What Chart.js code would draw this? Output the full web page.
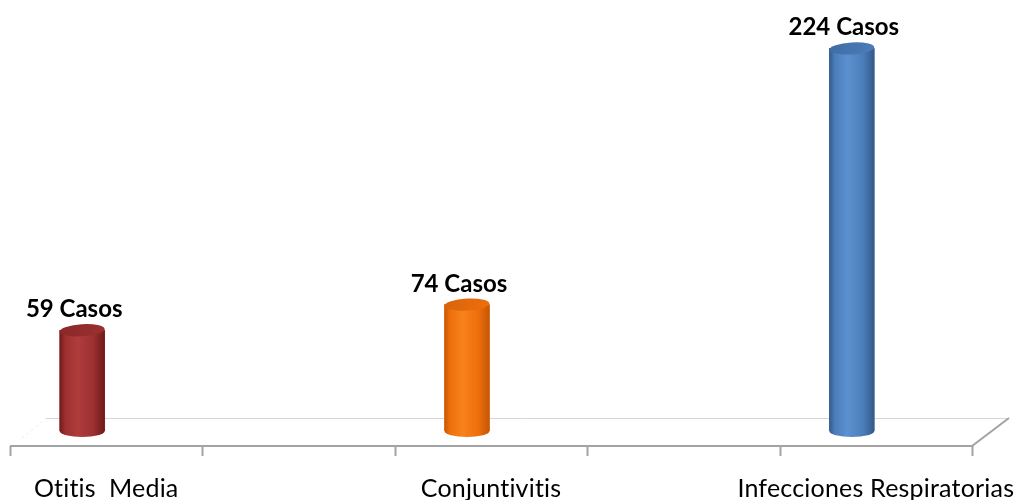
<!DOCTYPE html>
<html>
<head>
<meta charset="utf-8">
<script src="https://cdn.jsdelivr.net/npm/chart.js@4/dist/chart.umd.min.js"></script>
<style>
  html, body { margin: 0; padding: 0; background: #ffffff; }
  #wrap { width: 1015px; height: 500px; }
</style>
</head>
<body>
<div id="wrap"><canvas id="c" width="1015" height="500"></canvas></div>
<script>
// Categories (positions 2 and 4 are empty gaps on the axis)
const categories = ['Otitis  Media', '', 'Conjuntivitis', '', 'Infecciones Respiratorias'];
// Number of cases per category
const casos = [59, null, 74, null, 224];
// Text shown above each bar
const valueLabels = ['59 Casos', '', '74 Casos', '', '224 Casos'];

// Cylinder shading: [edge, highlight, mid, cap]
const shades = [
  ['#6e1a1a', '#b03c3c', '#9c3030', '#8a2828'],
  null,
  ['#c55708', '#f7821c', '#ee6f0c', '#d9630a'],
  null,
  ['#34598a', '#5d90d0', '#4b7dba', '#3f6ca4']
];

const SHIFT = -24;   // perspective shift of the bars
const FRONT = 15;    // floor front edge below the zero line
const BACK = 13;     // floor back edge above the zero line
const DEPTH = 37;    // horizontal depth of the floor

const floorPlugin = {
  id: 'floor',
  beforeDatasetsDraw(chart) {
    const { ctx, chartArea, scales } = chart;
    const y0 = scales.y.getPixelForValue(0);
    const yf = y0 + FRONT, yb = y0 - BACK;
    ctx.save();
    // back edge
    ctx.strokeStyle = '#d6d6d6';
    ctx.lineWidth = 1;
    ctx.beginPath();
    ctx.moveTo(chartArea.left + 36, yb + 0.5);
    ctx.lineTo(chartArea.right + DEPTH, yb + 0.5);
    ctx.stroke();
    // faint left side edge
    ctx.strokeStyle = '#e4e4e4';
    ctx.setLineDash([2, 4]);
    ctx.beginPath();
    ctx.moveTo(chartArea.left + 12, yf - 8);
    ctx.lineTo(chartArea.left + 36, yb + 0.5);
    ctx.stroke();
    ctx.setLineDash([]);
    // front edge + right side edge
    ctx.strokeStyle = '#a3a3a3';
    ctx.lineWidth = 2;
    ctx.beginPath();
    ctx.moveTo(chartArea.left, yf);
    ctx.lineTo(chartArea.right, yf);
    ctx.lineTo(chartArea.right + DEPTH, yb);
    ctx.stroke();
    // category separators
    const n = categories.length;
    const step = (chartArea.right - chartArea.left) / n;
    ctx.beginPath();
    for (let i = 0; i <= n; i++) {
      const x = Math.round(chartArea.left + i * step) + 0.5;
      ctx.moveTo(x, yf);
      ctx.lineTo(x, yf + 10);
    }
    ctx.stroke();
    ctx.restore();
    // bars are drawn with the perspective shift
    ctx.save();
    ctx.translate(SHIFT, 0);
  },
  afterDatasetsDraw(chart) {
    const { ctx } = chart;
    const meta = chart.getDatasetMeta(0);
    meta.data.forEach((el, i) => {
      const s = shades[i];
      if (!s || casos[i] == null) return;
      const { x, y, base, width } = el.getProps(['x', 'y', 'base', 'width'], true);
      const l = x - width / 2, r = x + width / 2, ry = 6;
      const g = ctx.createLinearGradient(l, 0, r, 0);
      g.addColorStop(0, s[0]);
      g.addColorStop(0.12, s[2]);
      g.addColorStop(0.4, s[1]);
      g.addColorStop(0.75, s[2]);
      g.addColorStop(1, s[0]);
      ctx.save();
      // body with rounded bottom
      ctx.fillStyle = g;
      ctx.beginPath();
      ctx.moveTo(l, y);
      ctx.lineTo(l, base);
      ctx.ellipse(x, base, width / 2, ry, 0, Math.PI, 0, true);
      ctx.lineTo(r, y);
      ctx.closePath();
      ctx.fill();
      // top cap
      const cg = ctx.createLinearGradient(l, y - ry, r, y + ry);
      cg.addColorStop(0, s[3]);
      cg.addColorStop(1, s[2]);
      ctx.fillStyle = cg;
      ctx.beginPath();
      ctx.ellipse(x, y, width / 2, ry, -0.06, 0, Math.PI * 2);
      ctx.fill();
      ctx.restore();
    });
    ctx.restore();
  },
  afterDraw(chart) {
    const { ctx, scales } = chart;
    const meta = chart.getDatasetMeta(0);
    ctx.save();
    ctx.fillStyle = '#000000';
    ctx.textAlign = 'center';
    ctx.textBaseline = 'alphabetic';
    // value labels above the bars
    ctx.font = 'bold 24px Lato';
    meta.data.forEach((el, i) => {
      if (casos[i] == null) return;
      ctx.fillText(valueLabels[i], el.x + SHIFT - 8, el.y - 13);
    });
    // category labels under the floor (spacing keeps letters unjoined)
    ctx.font = '25px Lato';
    if ('letterSpacing' in ctx) ctx.letterSpacing = '0.2px';
    categories.forEach((c, i) => {
      if (!c) return;
      ctx.fillText(c, scales.x.getPixelForValue(i), 497);
    });
    ctx.restore();
  }
};

new Chart(document.getElementById('c'), {
  type: 'bar',
  data: {
    labels: categories,
    datasets: [{
      data: casos,
      backgroundColor: shades.map(s => (s ? s[2] : 'transparent')),
      borderWidth: 0,
      barThickness: 45
    }]
  },
  options: {
    responsive: false,
    animation: false,
    layout: { padding: { left: 10, right: 43, top: 4, bottom: 69 } },
    plugins: { legend: { display: false }, tooltip: { enabled: false } },
    scales: {
      x: { display: false, offset: true },
      y: { display: false, min: 0, max: 250 }
    }
  },
  plugins: [floorPlugin]
});
</script>
</body>
</html>
